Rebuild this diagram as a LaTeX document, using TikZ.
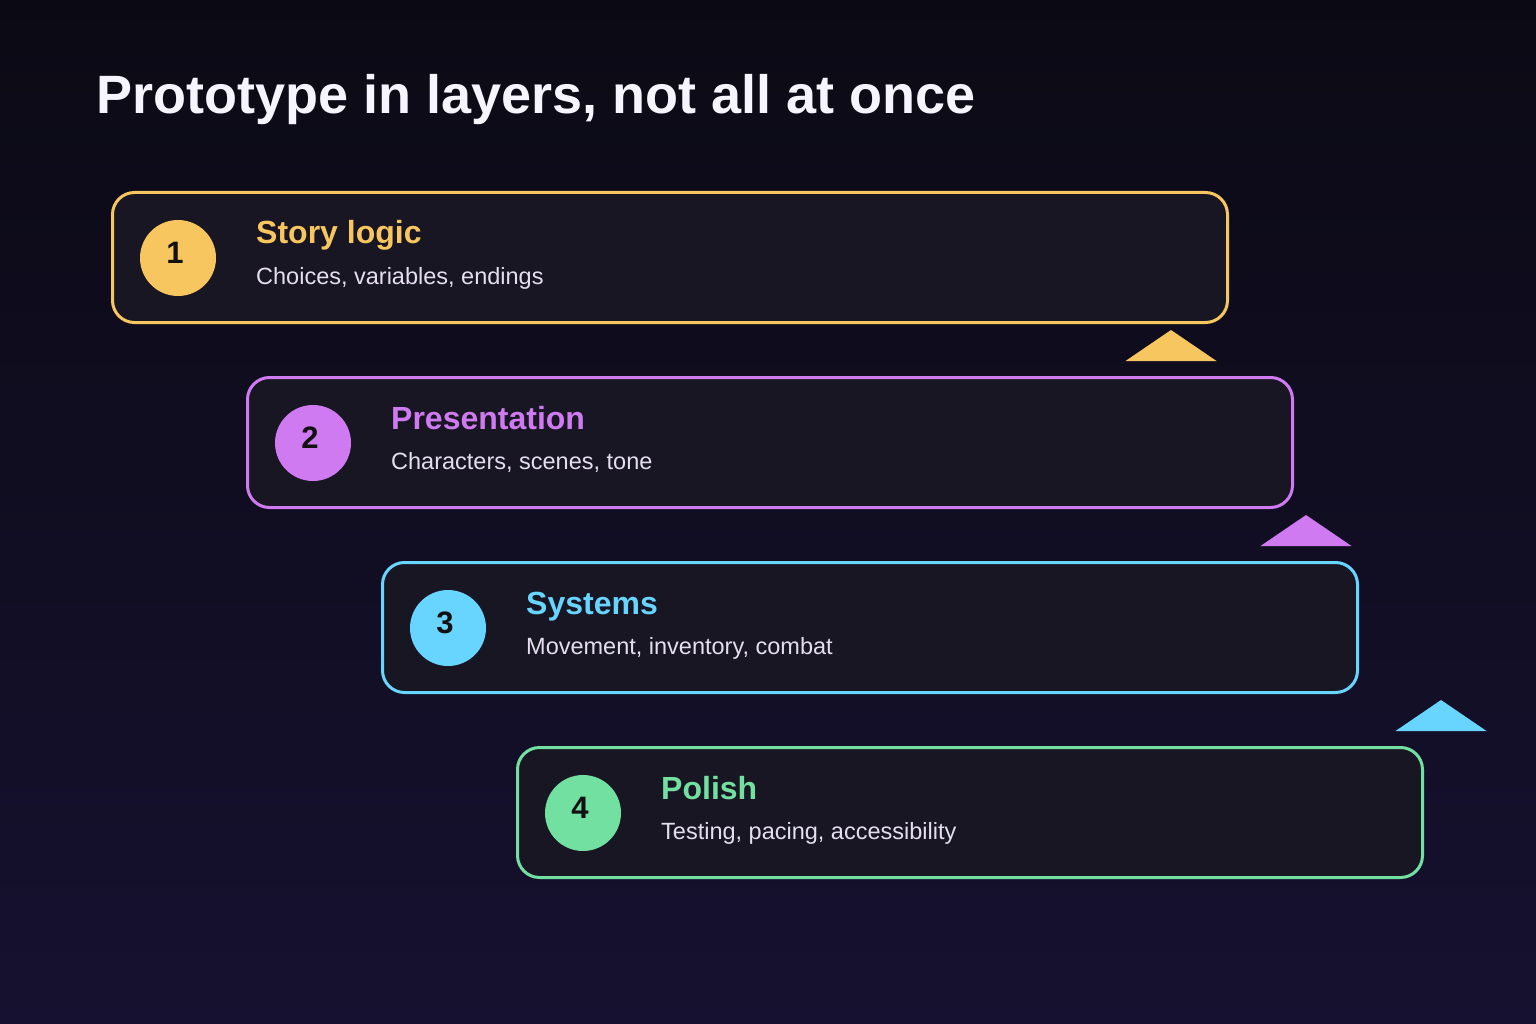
\documentclass[tikz,border=0pt]{standalone}
\usepackage{fontspec}
\setmainfont{Liberation Sans}
\usetikzlibrary{calc}
\definecolor{bgtop}{HTML}{0B0A14}
\definecolor{bgbot}{HTML}{161130}
\definecolor{boxfill}{HTML}{181622}
\definecolor{cyel}{HTML}{F7C65E}
\definecolor{cpur}{HTML}{D07AF1}
\definecolor{ccya}{HTML}{67D5FF}
\definecolor{cgrn}{HTML}{72E0A0}
\definecolor{subtxt}{HTML}{E4DEF0}
\definecolor{titletxt}{HTML}{F6F4FF}
\definecolor{numtxt}{HTML}{111111}
\tikzset{
  layerbox/.style={draw=#1, fill=boxfill, line width=3pt, rounded corners=22pt,
    rectangle, anchor=north west, minimum height=130pt, inner sep=0pt, outer sep=0pt},
  numdisc/.style={circle, fill=#1, minimum size=76pt, inner sep=0pt},
  numlabel/.style={text=numtxt, font=\fontsize{31}{31}\selectfont\bfseries, inner sep=0pt},
  headlabel/.style={text=#1, font=\fontsize{32}{32}\selectfont\bfseries, anchor=base west, inner sep=0pt},
  sublabel/.style={text=subtxt, font=\fontsize{23.5}{23.5}\selectfont, anchor=base west, inner sep=0pt},
  marker/.style={fill=#1, draw=none},
}
\begin{document}
\begin{tikzpicture}[x=1pt,y=-1pt]
\useasboundingbox (0,0) rectangle (1536,1024);
\shade[top color=bgtop, bottom color=bgbot] (0,0) rectangle (1536,1024);

\node[anchor=base west, inner sep=0pt, text=titletxt, font=\fontsize{54}{54}\selectfont\bfseries] (title) at (96,114) {Prototype in layers, not all at once};

% Layer 1
\node[layerbox=cyel, minimum width=1115pt] (b1) at (112.5,192.5) {};
\node[numdisc=cyel] (c1) at (178,258) {};
\node[numlabel] (n1) at ($(c1)+(-3,-5)$) {1};
\node[headlabel=cyel] (h1) at (256,244) {Story logic};
\node[sublabel] (s1) at (256,284) {Choices, variables, endings};

% Layer 2
\node[layerbox=cpur, minimum width=1045pt] (b2) at (247.5,377.5) {};
\node[numdisc=cpur] (c2) at (313,443) {};
\node[numlabel] (n2) at ($(c2)+(-3,-5)$) {2};
\node[headlabel=cpur] (h2) at (391,429) {Presentation};
\node[sublabel] (s2) at (391,469) {Characters, scenes, tone};

% Layer 3
\node[layerbox=ccya, minimum width=975pt] (b3) at (382.5,562.5) {};
\node[numdisc=ccya] (c3) at (448,628) {};
\node[numlabel] (n3) at ($(c3)+(-3,-5)$) {3};
\node[headlabel=ccya] (h3) at (526,614) {Systems};
\node[sublabel] (s3) at (526,654) {Movement, inventory, combat};

% Layer 4
\node[layerbox=cgrn, minimum width=905pt] (b4) at (517.5,747.5) {};
\node[numdisc=cgrn] (c4) at (583,813) {};
\node[numlabel] (n4) at ($(c4)+(-3,-5)$) {4};
\node[headlabel=cgrn] (h4) at (661,799) {Polish};
\node[sublabel] (s4) at (661,839) {Testing, pacing, accessibility};

% Markers
\coordinate (m1) at ($(b1.south west)+(1058.5,7.5)$);
\fill[marker=cyel] (m1) -- ++(45.5,31) -- ++(-91,0) -- cycle;
\coordinate (m2) at ($(b2.south west)+(1058.5,7.5)$);
\fill[marker=cpur] (m2) -- ++(45.5,31) -- ++(-91,0) -- cycle;
\coordinate (m3) at ($(b3.south west)+(1058.5,7.5)$);
\fill[marker=ccya] (m3) -- ++(45.5,31) -- ++(-91,0) -- cycle;
\end{tikzpicture}
\end{document}
